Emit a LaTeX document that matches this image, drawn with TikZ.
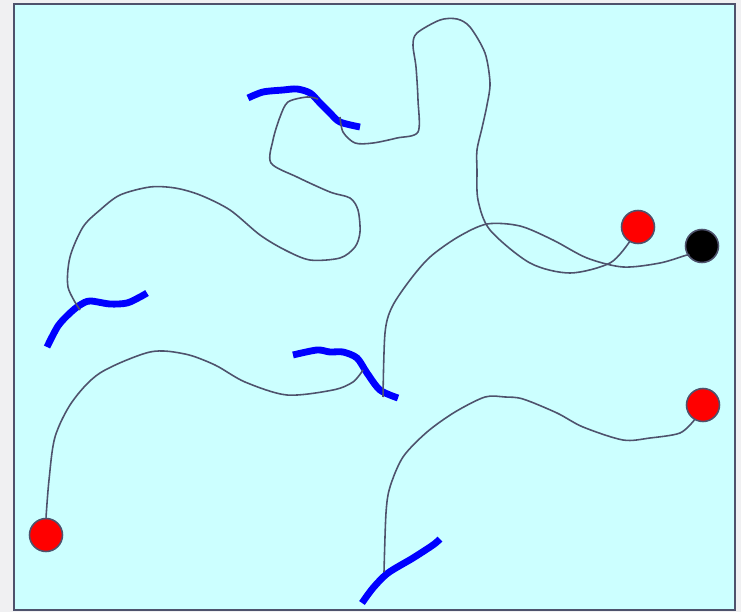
\documentclass[tikz,border=0pt]{standalone}
\usepackage{tikz}
\usetikzlibrary{positioning, backgrounds}
\definecolor{slateline}{RGB}{78, 82, 108}
\definecolor{paleaqua}{RGB}{204, 255, 255}
\definecolor{pureblue}{RGB}{0, 0, 255}
\definecolor{purered}{RGB}{255, 0, 0}
\definecolor{outergray}{RGB}{240, 240, 242}

\begin{document}
\begin{tikzpicture}[
    x=0.02cm, y=-0.02cm,
    wire/.style={draw=slateline, line width=0.9pt, line join=round},
    strand/.style={draw=pureblue, line width=3.9pt, line cap=butt, line join=round},
    redball/.style={circle, draw=slateline, fill=purered, line width=0.9pt, minimum size=0.66cm, inner sep=0pt},
    blackball/.style={circle, draw=slateline, fill=black, line width=0.9pt, minimum size=0.66cm, inner sep=0pt}
]

% Canvas
\fill[outergray] (0,0) rectangle (741,612);
\useasboundingbox (0,0) rectangle (741,612);
\draw[draw=slateline, fill=paleaqua, line width=1.1pt] (14,4) rectangle (735,610);

% Blue strands
\draw[strand] plot[smooth, tension=0.5] coordinates {(248,98) (263,92) (283,90) (297,89) (310,93) (320,103) (330,113) (340,122) (360,127)};
\draw[strand] plot[smooth, tension=0.5] coordinates {(47,347) (58,326) (70,313) (80,305) (90,301) (110,304) (127,303) (140,297) (147,293)};
\draw[strand] plot[smooth, tension=0.5] coordinates {(293,355) (317,350) (330,352) (343,352) (357,358) (367,373) (380,390) (398,398)};
\draw[strand] plot[smooth, tension=0.5] coordinates {(362,603) (373,588) (388,573) (413,558) (433,545) (440,539)};

% Balls
\node[redball] (ballA) at (46,535) {};
\node[redball] (ballD) at (638,227) {};
\node[blackball] (ballC) at (702,246) {};
\node[redball] (ballF) at (703,405) {};

% Free ends
\coordinate (endA) at (363,370);
\coordinate (endC) at (383,397);
\coordinate (endD) at (340,117);
\coordinate (endEa) at (318,99);
\coordinate (endEb) at (80,310);
\coordinate (endF) at (384,572);

% Connectors
\draw[wire] plot[smooth, tension=0.5] coordinates {(ballA.north) (49,480) (55,437) (72,402) (100,373) (150,352) (185,354) (215,365) (245,382) (287,395) (333,390) (353,382) (endA)};
\draw[wire] plot[smooth, tension=0.5] coordinates {(endC) (385,333) (392,307) (410,280) (430,257) (458,237) (487,224) (520,226) (553,240) (587,258) (623,267) (660,263) (687,255) (ballC.215)};
\draw[wire] plot[smooth, tension=0.5] coordinates {(ballD.240) (610,263) (570,273) (530,263) (490,230) (478,200) (477,170) (477,150) (482,128) (487,105) (490,83) (485,53) (470,27) (457,19) (440,20) (417,33) (413,45) (416,67) (418,100) (418,132) (397,138) (373,143) (355,143) (343,132) (endD)};
\draw[wire] plot[smooth, tension=0.5] coordinates {(endEa) (307,97) (288,102) (280,117) (273,140) (271,163) (297,177) (330,192) (350,198) (358,210) (360,232) (355,247) (340,258) (310,260) (285,250) (260,235) (230,210) (200,195) (175,188) (150,187) (120,195) (100,210) (83,227) (70,257) (68,287) (endEb)};
\draw[wire] plot[smooth, tension=0.5] coordinates {(ballF.240) (680,433) (650,438) (623,440) (583,427) (557,413) (523,399) (505,397) (485,397) (455,412) (427,432) (403,457) (390,487) (386,513) (endF)};

\end{tikzpicture}
\end{document}
